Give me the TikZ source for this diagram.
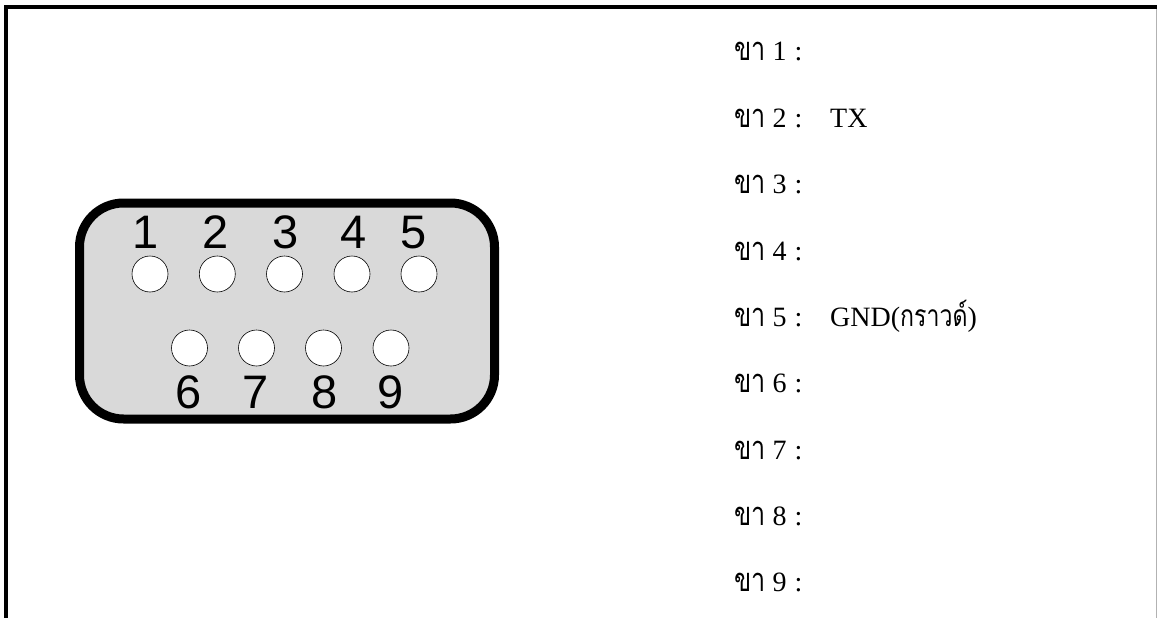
\documentclass[tikz,border=0pt]{standalone}
\usepackage{fontspec}
\setmainfont{Liberation Serif}
\newfontfamily\digitfont{Liberation Sans}
\newfontfamily\thaifont[Script=Thai,FakeStretch=0.77]{Loma}
\newcommand{\pinword}{{\thaifont\fontsize{32.7}{33}\selectfont ขา}}
\tikzset{
  x=1pt,y=-1pt,
  shell/.style={draw=black,line width=9pt,fill=black!15,rounded corners=44pt},
  pinhole/.style={circle,draw=black,fill=white,line width=0.6pt,minimum size=36pt,inner sep=0pt},
  pinnum/.style={anchor=base,font=\digitfont\fontsize{47}{47}\selectfont,inner sep=0pt,text=black},
  pinlabel/.style={anchor=base west,inner sep=0pt,font=\fontsize{28}{28}\selectfont,text=black},
}
\begin{document}
\begin{tikzpicture}
\useasboundingbox (0,0) rectangle (1157,618);
\fill[white] (0,0) rectangle (1157,618);
\draw[black,line width=4.5pt] (6,618) -- (6,7) -- (1157,7);
\draw[black!30,line width=1pt] (1156,9) -- (1156,618);
\draw[shell] (79.5,203) rectangle (494.5,419);
\foreach \n/\x in {1/150,2/217.3,3/284.5,4/352,5/419}
  \node[pinhole] (p\n) at (\x,274) {};
\foreach \n/\x in {6/189.5,7/256.5,8/323.5,9/391}
  \node[pinhole] (p\n) at (\x,348) {};
\foreach \n/\x in {1/146,2/216,3/286,4/354,5/414}
  \node[pinnum] (n\n) at (\x,248) {\n};
\foreach \n/\x in {6/189,7/256,8/325,9/391}
  \node[pinnum] (n\n) at (\x,408) {\n};
\foreach \n/\y in {1/61,2/127,3/193.5,4/260,5/326.5,6/392.5,7/459,8/525,9/591}
  \node[pinlabel] (l\n) at (734,\y) {\pinword\hspace{7pt}\n\hspace{8pt}:};
\node[pinlabel] (v2) at (830,127) {TX};
\node[pinlabel] (v5) at (830,326.5) {GND({\thaifont\fontsize{30}{30}\selectfont กราวด์})};
\end{tikzpicture}
\end{document}
